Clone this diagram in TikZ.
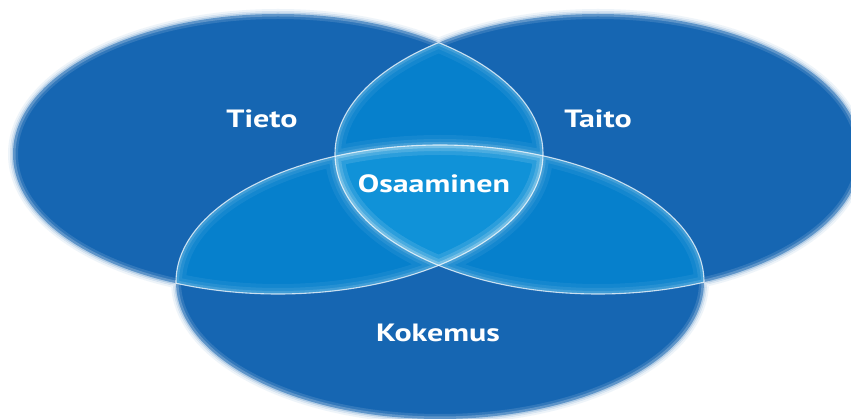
\documentclass[tikz,border=0pt]{standalone}
\usepackage{fontspec}
\setmainfont{PT Sans}
\begin{document}
\begin{tikzpicture}[x=1pt,y=-1pt]
\definecolor{vdark}{RGB}{22,102,178}
\definecolor{vmid}{RGB}{6,128,204}
\definecolor{vlight}{RGB}{16,146,216}
\tikzset{
  ra/.style={x radius=265pt,y radius=140pt},
  rb/.style={x radius=263pt,y radius=140pt},
  rc/.style={x radius=264pt,y radius=137pt},
  lbl/.style={text=white,font=\bfseries\fontsize{25}{25}\selectfont,inner sep=0pt},
}
\newcommand\wide[1]{\scalebox{1.28}[1]{#1}}
\useasboundingbox (0,0) rectangle (851,419);
\coordinate (cA) at (278,154);
\coordinate (cB) at (598,154);
\coordinate (cC) at (440,282);
% soft outer blur
\foreach \w/\o in {10/0.08,6/0.16,3/0.30}{
  \draw[line width=\w pt, draw=vdark, draw opacity=\o] (cA) ellipse[ra] (cB) ellipse[rb] (cC) ellipse[rc];}
% union fill
\fill[vdark] (cA) ellipse[ra] (cB) ellipse[rb] (cC) ellipse[rc];
% pair overlaps
\begin{scope}\clip (cA) ellipse[ra]; \fill[vmid] (cB) ellipse[rb] (cC) ellipse[rc];\end{scope}
\begin{scope}\clip (cB) ellipse[rb]; \fill[vmid] (cC) ellipse[rc];\end{scope}
% triple overlap
\begin{scope}\clip (cA) ellipse[ra]; \clip (cB) ellipse[rb]; \fill[vlight] (cC) ellipse[rc];\end{scope}
% inner glow in overlaps
\begin{scope}\clip (cA) ellipse[ra]; \clip (cB) ellipse[rb] (cC) ellipse[rc];
  \foreach \w/\o in {20/0.06,12/0.08,6/0.13}{
    \draw[white, draw opacity=\o, line width=\w pt] (cA) ellipse[ra] (cB) ellipse[rb] (cC) ellipse[rc];}
\end{scope}
\begin{scope}\clip (cB) ellipse[rb]; \clip (cC) ellipse[rc];
  \foreach \w/\o in {20/0.06,12/0.08,6/0.13}{
    \draw[white, draw opacity=\o, line width=\w pt] (cA) ellipse[ra] (cB) ellipse[rb] (cC) ellipse[rc];}
\end{scope}
% thin white internal lines
\begin{scope}\clip (cB) ellipse[rb] (cC) ellipse[rc];
  \draw[white, draw opacity=0.75, line width=1.1pt] (cA) ellipse[ra];\end{scope}
\begin{scope}\clip (cA) ellipse[ra] (cC) ellipse[rc];
  \draw[white, draw opacity=0.75, line width=1.1pt] (cB) ellipse[rb];\end{scope}
\begin{scope}\clip (cA) ellipse[ra] (cB) ellipse[rb];
  \draw[white, draw opacity=0.75, line width=1.1pt] (cC) ellipse[rc];\end{scope}
% inner feather on outer boundary
\begin{scope}[even odd rule]
  \clip (-20,-20) rectangle (880,450) (cB) ellipse[rb];
  \clip (-20,-20) rectangle (880,450) (cC) ellipse[rc];
  \foreach \w/\o in {10/0.12,5/0.22}{\draw[white, draw opacity=\o, line width=\w pt] (cA) ellipse[ra];}
\end{scope}
\begin{scope}[even odd rule]
  \clip (-20,-20) rectangle (880,450) (cA) ellipse[ra];
  \clip (-20,-20) rectangle (880,450) (cC) ellipse[rc];
  \foreach \w/\o in {10/0.12,5/0.22}{\draw[white, draw opacity=\o, line width=\w pt] (cB) ellipse[rb];}
\end{scope}
\begin{scope}[even odd rule]
  \clip (-20,-20) rectangle (880,450) (cA) ellipse[ra];
  \clip (-20,-20) rectangle (880,450) (cB) ellipse[rb];
  \foreach \w/\o in {10/0.12,5/0.22}{\draw[white, draw opacity=\o, line width=\w pt] (cC) ellipse[rc];}
\end{scope}
% labels
\node[lbl] (tieto) at (262,119) {\wide{Tieto}};
\node[lbl] (taito) at (598,119) {\wide{Taito}};
\node[lbl] (osaaminen) at (434,184) {\wide{Osaaminen}};
\node[lbl] (kokemus) at (438,333) {\wide{Kokemus}};
\end{tikzpicture}
\end{document}
